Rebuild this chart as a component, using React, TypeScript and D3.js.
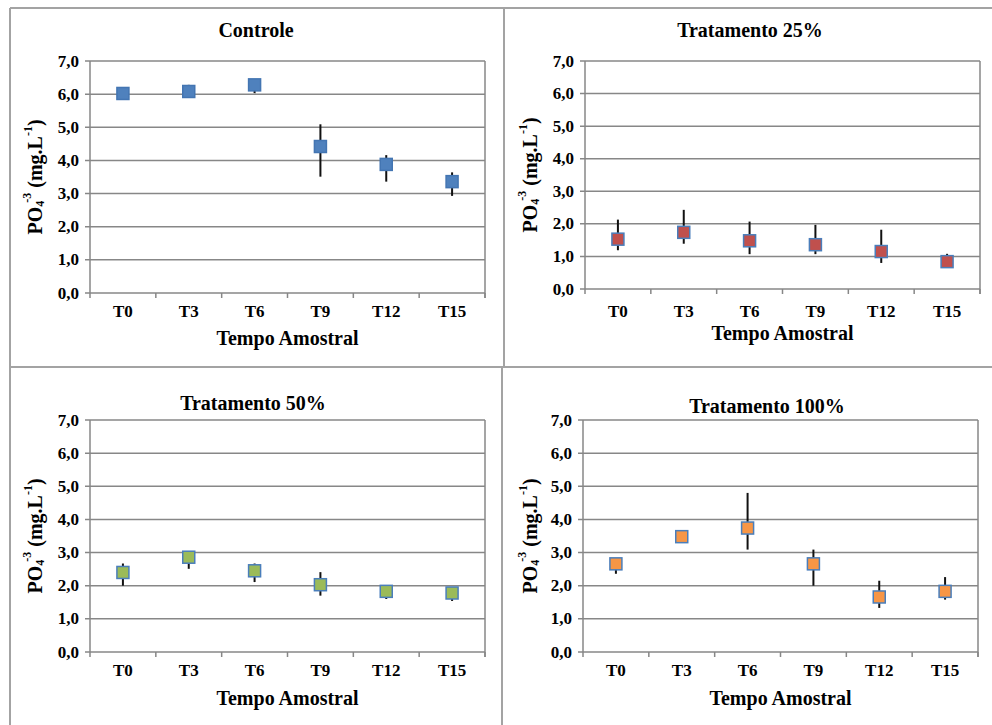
import React from "react";
import * as d3 from "d3";

const categories = ["T0", "T3", "T6", "T9", "T12", "T15"];
const yTicks = [0, 1, 2, 3, 4, 5, 6, 7];

const controleMean = [6.02, 6.08, 6.28, 4.42, 3.88, 3.36];
const controleLow = [5.98, 6.0, 6.03, 3.51, 3.36, 2.93];
const controleHigh = [6.06, 6.28, 6.33, 5.09, 4.16, 3.64];

const t25Mean = [1.53, 1.74, 1.48, 1.36, 1.15, 0.84];
const t25Low = [1.19, 1.39, 1.07, 1.07, 0.8, 0.76];
const t25High = [2.13, 2.43, 2.07, 1.97, 1.82, 1.08];

const t50Mean = [2.4, 2.86, 2.45, 2.03, 1.83, 1.78];
const t50Low = [2.0, 2.51, 2.11, 1.7, 1.6, 1.54];
const t50High = [2.67, 2.95, 2.67, 2.41, 1.92, 1.85];

const t100Mean = [2.66, 3.48, 3.74, 2.66, 1.66, 1.83];
const t100Low = [2.36, 3.45, 3.09, 2.0, 1.33, 1.58];
const t100High = [2.75, 3.52, 4.8, 3.09, 2.15, 2.26];

const FONT = "Liberation Serif";
const GRID = "#878787";

// panel boxes (plot area) and text positions
const panels = [
  { title: "Controle", mean: controleMean, low: controleLow, high: controleHigh, fill: "#4f81bd", stroke: "#4375b2",
    left: 90, right: 485, top: 61, bottom: 293, titleX: 256, titleY: 30, tickY: 311, axisY: 338, yTitleX: 35 },
  { title: "Tratamento 25%", mean: t25Mean, low: t25Low, high: t25High, fill: "#c0504d", stroke: "#4a7ebb",
    left: 585, right: 980, top: 61, bottom: 289, titleX: 750, titleY: 30, tickY: 311, axisY: 333, yTitleX: 530 },
  { title: "Tratamento 50%", mean: t50Mean, low: t50Low, high: t50High, fill: "#9bbb59", stroke: "#4a7ebb",
    left: 90, right: 485, top: 420, bottom: 652, titleX: 253, titleY: 403, tickY: 670, axisY: 698, yTitleX: 35 },
  { title: "Tratamento 100%", mean: t100Mean, low: t100Low, high: t100High, fill: "#f79646", stroke: "#4a7ebb",
    left: 583, right: 978, top: 420, bottom: 652, titleX: 767, titleY: 406, tickY: 670, axisY: 698, yTitleX: 530 },
];

const Panel = ({ p }) => {
  const x = d3.scaleBand().domain(categories).range([p.left, p.right]);
  const y = d3.scaleLinear().domain([0, 7]).range([p.bottom, p.top]);
  const fmt = (v) => d3.format(".1f")(v).replace(".", ",");
  const cx = (c) => x(c) + x.bandwidth() / 2;
  const boundaries = d3.range(categories.length + 1).map((i) => p.left + i * x.step());
  const size = 12;

  return (
    <g fill="#000">
      <text x={p.titleX} y={p.titleY} fontFamily={FONT} fontWeight="bold" fontSize={20} textAnchor="middle" dominantBaseline="central">{p.title}</text>
      {yTicks.map((t) => (
        <g key={t}>
          <line x1={p.left - 5} x2={p.right} y1={y(t)} y2={y(t)} stroke={GRID} strokeWidth={1.5} />
          <text x={p.left - 11} y={y(t)} fontFamily={FONT} fontWeight="bold" fontSize={17} textAnchor="end" dominantBaseline="central">{fmt(t)}</text>
        </g>
      ))}
      <line x1={p.left} x2={p.left} y1={p.top} y2={p.bottom} stroke={GRID} strokeWidth={1.5} />
      <line x1={p.right} x2={p.right} y1={p.top} y2={p.bottom + 5} stroke={GRID} strokeWidth={1.5} />
      {boundaries.map((bx, i) => (
        <line key={i} x1={bx} x2={bx} y1={p.bottom} y2={p.bottom + 5} stroke={GRID} strokeWidth={1.5} />
      ))}
      {categories.map((c) => (
        <text key={c} x={cx(c)} y={p.tickY} fontFamily={FONT} fontWeight="bold" fontSize={17} textAnchor="middle" dominantBaseline="central">{c}</text>
      ))}
      <text x={(p.left + p.right) / 2} y={p.axisY} fontFamily={FONT} fontWeight="bold" fontSize={20} textAnchor="middle" dominantBaseline="central">Tempo Amostral</text>
      <text transform={`translate(${p.yTitleX},${(p.top + p.bottom) / 2}) rotate(-90)`} fontFamily={FONT} fontWeight="bold" fontSize={20}
        textAnchor="middle" dominantBaseline="central">
        PO<tspan fontSize={12} dy={5}>4</tspan><tspan fontSize={12} dx={-2} dy={-13}>-3</tspan><tspan fontSize={20} dy={8}> (mg.L</tspan><tspan fontSize={12} dy={-7}>-1</tspan><tspan fontSize={20} dy={7}>)</tspan>
      </text>
      {categories.map((c, i) => (
        <line key={"e" + c} x1={cx(c)} x2={cx(c)} y1={y(p.low[i])} y2={y(p.high[i])} stroke="#111" strokeWidth={2} />
      ))}
      {categories.map((c, i) => (
        <rect key={"m" + c} x={cx(c) - size / 2} y={y(p.mean[i]) - size / 2} width={size} height={size}
          fill={p.fill} stroke={p.stroke} strokeWidth={1.5} />
      ))}
    </g>
  );
};

export default function App() {
  return (
    <svg width={992} height={725} style={{ position: "absolute", left: 0, top: 0, background: "#fff" }}>
      <rect x={0} y={0} width={992} height={725} fill="#fff" />
      <g stroke="#a3a3a3" strokeWidth={2} fill="none">
        <line x1={10} x2={992} y1={8} y2={8} />
        <line x1={10} x2={10} y1={8} y2={725} />
        <line x1={10} x2={992} y1={367} y2={367} />
        <line x1={504} x2={504} y1={8} y2={367} />
        <line x1={502} x2={502} y1={367} y2={725} />
      </g>
      {panels.map((p) => (
        <Panel key={p.title} p={p} />
      ))}
    </svg>
  );
}
